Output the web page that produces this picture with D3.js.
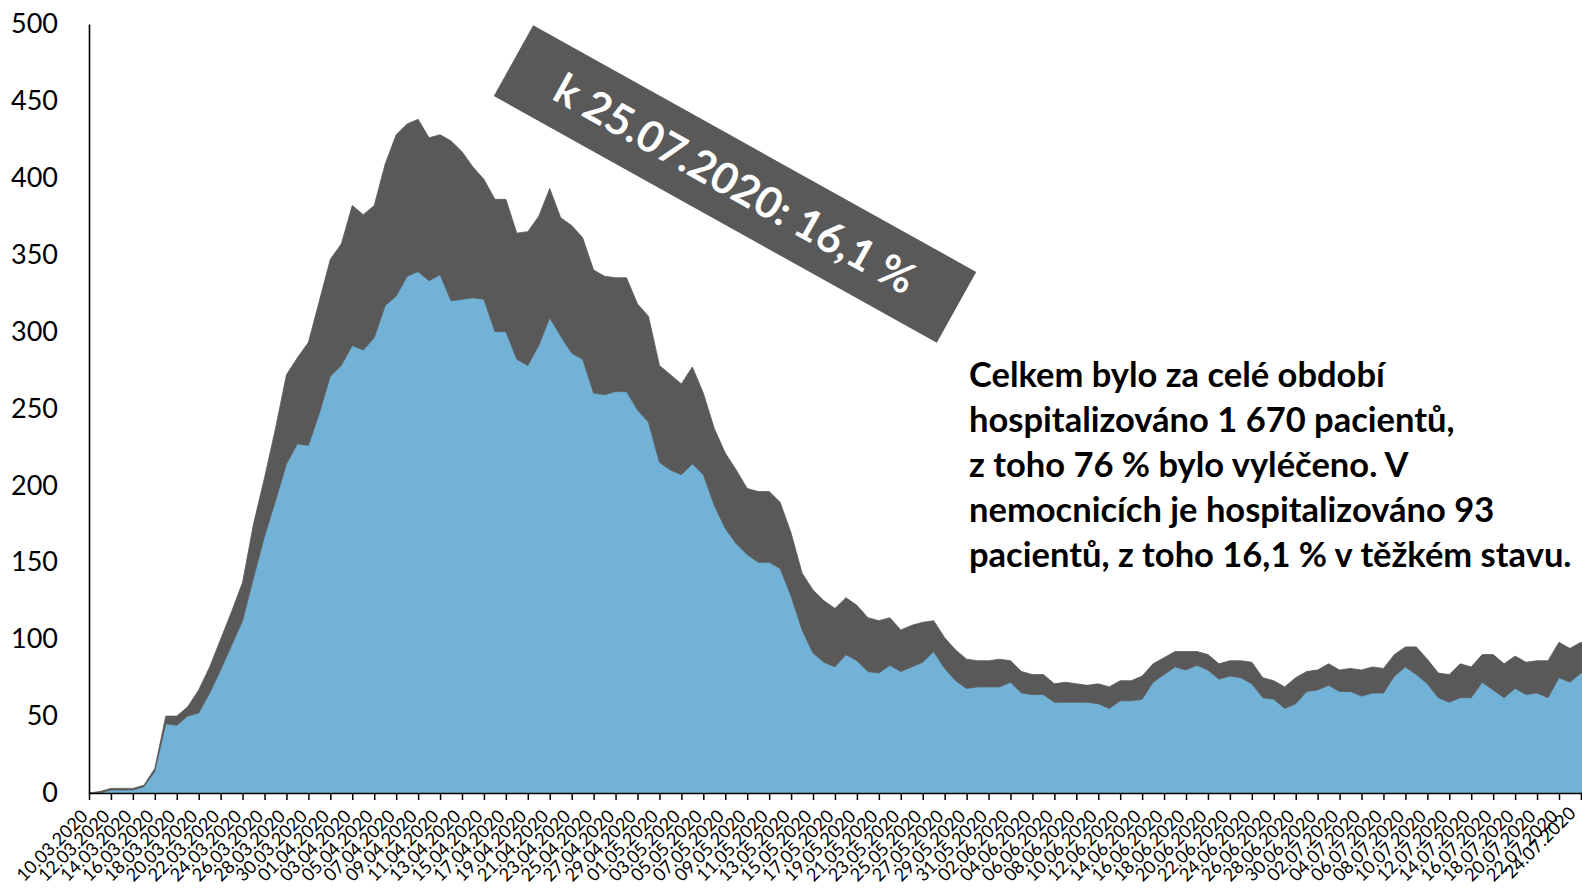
<!DOCTYPE html>
<html><head><meta charset="utf-8">
<script src="https://cdn.jsdelivr.net/npm/d3@7"></script>
<style>html,body{margin:0;padding:0;background:#fff;overflow:hidden}</style>
</head><body><svg id="chart" width="1582" height="889"></svg>
<script>
// Categories: daily dates 10.03.2020 - 25.07.2020
const dates = d3.timeDay.range(new Date(2020, 2, 10), new Date(2020, 6, 26)).map(d3.timeFormat("%d.%m.%Y"));

// Hospitalised patients not in severe condition (light blue)
const mild = [
  0, 0, 2, 2, 2, 4, 14, 45, 44, 50,
  52, 65, 80, 96, 112, 140, 167, 190, 214, 227,
  226, 247, 271, 278, 291, 288, 296, 317, 323, 336,
  339, 333, 337, 320, 321, 322, 321, 300, 300, 282,
  278, 291, 309, 297, 286, 282, 260, 259, 261, 261,
  249, 241, 215, 210, 207, 214, 207, 187, 172, 162,
  155, 150, 150, 146, 128, 106, 91, 85, 82, 90,
  86, 79, 78, 83, 79, 82, 85, 92, 81, 73,
  68, 69, 69, 69, 72, 65, 64, 64, 59, 59,
  59, 59, 58, 55, 60, 60, 61, 72, 77, 82,
  80, 83, 80, 74, 76, 75, 71, 62, 61, 55,
  58, 66, 67, 70, 66, 66, 63, 65, 65, 76,
  82, 77, 71, 62, 59, 62, 62, 72, 67, 62,
  68, 64, 65, 62, 75, 72, 78, 78
];
// Patients in severe condition (dark grey)
const severe = [
  0, 1, 1, 1, 1, 1, 2, 5, 6, 6,
  15, 17, 20, 22, 25, 35, 38, 47, 58, 56,
  67, 73, 76, 79, 91, 88, 86, 92, 105, 99,
  99, 93, 91, 104, 96, 85, 78, 86, 86, 82,
  87, 84, 84, 77, 83, 79, 80, 77, 74, 74,
  69, 69, 63, 62, 59, 63, 53, 50, 49, 48,
  43, 46, 46, 43, 41, 37, 41, 40, 38, 37,
  36, 35, 34, 31, 27, 27, 26, 20, 20, 20,
  19, 17, 17, 18, 14, 14, 13, 13, 12, 13,
  12, 11, 13, 14, 13, 13, 15, 12, 11, 10,
  12, 9, 10, 10, 10, 11, 14, 13, 12, 14,
  17, 13, 13, 14, 14, 15, 17, 17, 16, 14,
  13, 18, 16, 16, 18, 22, 20, 18, 23, 22,
  21, 21, 21, 24, 23, 22, 20, 15
];
const yTicks = [0, 50, 100, 150, 200, 250, 300, 350, 400, 450, 500];
const xTickLabels = dates.filter((d, i) => i % 2 === 0);
const bannerText = "k 25.07.2020: 16,1 %";
const noteLines = [
  "Celkem bylo za celé období",
  "hospitalizováno 1 670 pacientů,",
  "z toho 76 % bylo vyléčeno. V",
  "nemocnicích je hospitalizováno 93",
  "pacientů, z toho 16,1 % v těžkém stavu."
];

const COLORS = { mild: "#72B2D7", severe: "#595959" };
const FONT = "Lato, 'Open Sans', sans-serif";

const svg = d3.select("#chart");
const x = d3.scalePoint().domain(dates).range([89, 89 + 10.97 * (dates.length - 1)]);
const y = d3.scaleLinear().domain([0, 500]).range([793, 24]);

const table = dates.map((d, i) => ({ date: d, mild: mild[i], severe: severe[i] }));
const stack = d3.stack().keys(["mild", "severe"]);
const series = stack(table);
const area = d3.area()
  .x(d => x(d.data.date))
  .y0(d => y(d[0]))
  .y1(d => y(d[1]));

svg.append("g").selectAll("path").data(series).join("path")
  .attr("d", area)
  .attr("fill", d => COLORS[d.key])
  .attr("stroke", d => COLORS[d.key])
  .attr("stroke-width", 0.8);

// Y axis
const yAxis = svg.append("g").attr("transform", "translate(89,0)")
  .call(d3.axisLeft(y).tickValues(yTicks).tickSize(0).tickSizeOuter(0).tickPadding(31));
yAxis.select(".domain").attr("stroke", "#000").attr("stroke-width", 1.6);
yAxis.selectAll("text").attr("font-family", FONT).attr("font-size", 27).attr("fill", "#000");

// X axis
const xAxis = svg.append("g").attr("transform", "translate(0,793)")
  .call(d3.axisBottom(x).tickValues(xTickLabels).tickSize(7).tickSizeOuter(0));
xAxis.select(".domain").attr("stroke", "#000").attr("stroke-width", 1.6);
xAxis.selectAll(".tick line").attr("stroke", "#000").attr("stroke-width", 1.5);
const lastLabel = xTickLabels[xTickLabels.length - 1];
xAxis.selectAll("text")
  .attr("font-family", FONT).attr("font-size", 18).attr("fill", "#000")
  .attr("x", 0).attr("y", 0).attr("dy", "0.35em")
  .attr("text-anchor", "end")
  .attr("transform", d => d === lastLabel ? "translate(-9,17) rotate(-45)" : "translate(-5,20) rotate(-45)");

// Banner
const banner = svg.append("g").attr("transform", "translate(735,184) rotate(29.1)");
banner.append("rect").attr("x", -253.5).attr("y", -40.5).attr("width", 507).attr("height", 81).attr("fill", COLORS.severe);
banner.append("text").text(bannerText)
  .attr("text-anchor", "middle").attr("dy", "0.35em")
  .attr("font-family", FONT).attr("font-weight", "bold").attr("font-size", 43).attr("fill", "#fff");

// Note
svg.append("g").selectAll("text").data(noteLines).join("text")
  .attr("x", 969).attr("y", (d, i) => 387 + i * 45)
  .attr("font-family", FONT).attr("font-weight", "bold").attr("font-size", 34.5).attr("fill", "#000")
  .text(d => d);
</script>
</body></html>
